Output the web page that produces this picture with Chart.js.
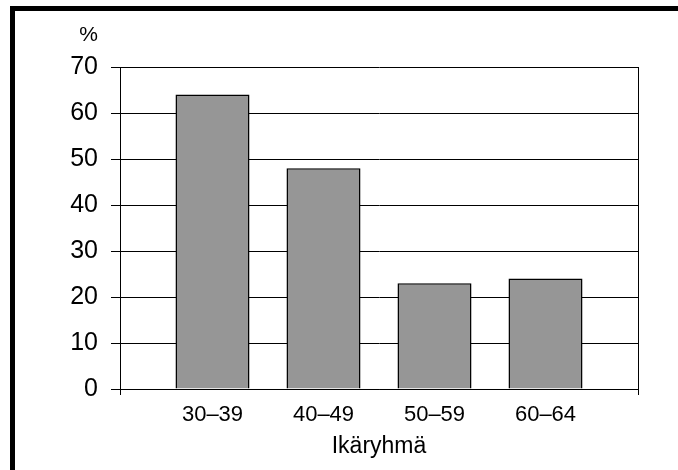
<!DOCTYPE html>
<html>
<head>
<meta charset="utf-8">
<script src="https://cdn.jsdelivr.net/npm/chart.js@4/dist/chart.umd.min.js"></script>
<style>
  body { margin: 0; background: #fff; }
  #wrap { position: relative; width: 678px; height: 470px; overflow: hidden; }
  #frame {
    position: absolute; left: 10px; top: 6px; width: 668px; height: 464px;
    box-sizing: border-box; border-top: 5px solid #000; border-left: 5px solid #000;
    pointer-events: none;
  }
</style>
</head>
<body>
<div id="wrap">
  <canvas id="chart" width="678" height="470"></canvas>
  <div id="frame"></div>
</div>
<script>
// data
const categories = ["30–39", "40–49", "50–59", "60–64"];
const values = [64, 48, 23, 24];
const yTicks = [0, 10, 20, 30, 40, 50, 60, 70];

const FONT = "'Liberation Sans', Arial, sans-serif";

// plot frame: right edge + end ticks under the x axis, and the "%" unit
const framePlugin = {
  id: "framePlugin",
  afterDraw(chart) {
    const { ctx, chartArea: a } = chart;
    ctx.save();
    ctx.strokeStyle = "#000";
    ctx.lineWidth = 1;
    ctx.beginPath();
    ctx.moveTo(a.right + 0.5, a.top);
    ctx.lineTo(a.right + 0.5, a.bottom + 6);
    ctx.moveTo(a.left + 0.5, a.bottom);
    ctx.lineTo(a.left + 0.5, a.bottom + 6);
    ctx.stroke();
    ctx.fillStyle = "#000";
    ctx.font = "21px " + FONT;
    ctx.textAlign = "right";
    ctx.textBaseline = "middle";
    ctx.fillText("%", 98, 35);
    ctx.restore();
  }
};

new Chart(document.getElementById("chart"), {
  type: "bar",
  data: {
    datasets: [{
      data: values.map((v, i) => ({ x: i, y: v })),
      backgroundColor: "#969696",
      borderColor: "#000",
      borderWidth: 1.5,
      barPercentage: 0.667,
      categoryPercentage: 1
    }]
  },
  options: {
    responsive: false,
    animation: false,
    layout: { padding: { top: 67, left: 0, right: 40, bottom: 0 } },
    plugins: { legend: { display: false }, tooltip: { enabled: false } },
    scales: {
      x: {
        type: "linear",
        offset: false,
        min: -0.8333,
        max: categories.length - 1 + 0.8333,
        afterBuildTicks: s => { s.ticks = categories.map((c, i) => ({ value: i })); },
        afterFit: s => { s.height = 81; },
        grid: { display: false },
        border: { display: true, color: "#000", width: 1 },
        ticks: {
          color: "#000",
          font: { family: FONT, size: 22 },
          padding: 5,
          maxRotation: 0,
          callback: v => categories[v]
        },
        title: {
          display: true,
          text: "Ikäryhmä",
          color: "#000",
          font: { family: FONT, size: 23 },
          padding: { top: 0, bottom: 10 }
        }
      },
      y: {
        min: 0,
        max: 70,
        afterBuildTicks: s => { s.ticks = yTicks.map(v => ({ value: v })); },
        afterFit: s => { s.width = 120; },
        grid: { color: "#000", lineWidth: 1, tickLength: 9, drawTicks: true },
        border: { display: true, color: "#000", width: 1 },
        ticks: {
          color: "#000",
          font: { family: FONT, size: 25 },
          padding: 13
        }
      }
    }
  },
  plugins: [framePlugin]
});
</script>
</body>
</html>
